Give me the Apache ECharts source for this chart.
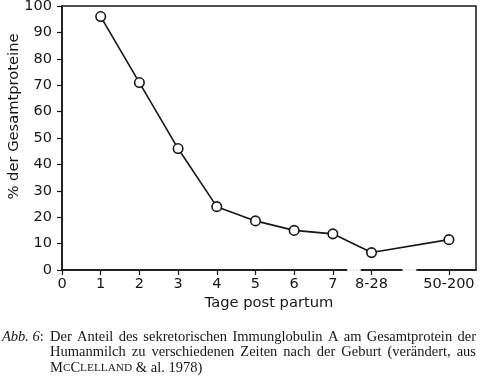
<!DOCTYPE html>
<html><head><meta charset="utf-8">
<script src="https://cdn.jsdelivr.net/npm/echarts@6/dist/echarts.min.js"></script>
<style>html,body{margin:0;padding:0;background:#fff}#c{width:480px;height:378px}</style>
</head><body><div id="c"></div>
<script>
// ---- data ----
const tickPositions = [0, 1, 2, 3, 4, 5, 6, 7, 8, 10];
const tickLabels = ['0', '1', '2', '3', '4', '5', '6', '7', '8-28', '50-200'];
const dayPositions = [1, 2, 3, 4, 5, 6, 7, 8, 10];
const sigaPercent = [96, 71, 46, 24, 18.6, 15, 13.7, 6.6, 11.5];
const axisBreaks = [[7.37, 7.72], [8.8, 9.16]];
const yAxisTitle = '% der Gesamtproteine';
const xAxisTitle = 'Tage post partum';
const captionLead = 'Abb. 6';
const captionLine1 = 'Der Anteil des sekretorischen Immunglobulin A am Gesamtprotein der';
const captionLine2 = 'Humanmilch zu verschiedenen Zeiten nach der Geburt (verändert, aus';
const captionLine3 = ' & al. 1978)';

const chart = echarts.init(document.getElementById('c'), null, {renderer: 'canvas'});
const ink = '#161616';
const sans = 'DejaVu Sans';
const serif = 'Liberation Serif';
const capFont = 14.5;

const labelMap = {};
tickPositions.forEach((p, i) => labelMap[p] = tickLabels[i]);

// justify words across a line
const cv = document.createElement('canvas').getContext('2d');
function justifiedWords(text, x0, x1, y) {
  cv.font = capFont + 'px "' + serif + '"';
  const words = text.split(' ');
  const widths = words.map(w => cv.measureText(w).width);
  const total = widths.reduce((a, b) => a + b, 0);
  const gap = (x1 - x0 - total) / (words.length - 1);
  let x = x0;
  return words.map((w, i) => {
    const el = {type: 'text', x: x, y: y, silent: true,
      style: {text: w, fontFamily: serif, fontSize: capFont, fill: ink, verticalAlign: 'middle'}};
    x += widths[i] + gap;
    return el;
  });
}

const capLeft = 50, capRight = 476;
const graphics = [
  {type: 'text', x: 2, y: 337, silent: true,
   style: {text: '{i|' + captionLead + '}:', fontFamily: serif, fontSize: capFont, fill: ink, verticalAlign: 'middle',
     rich: {i: {fontFamily: serif, fontStyle: 'italic', fontSize: capFont, fill: ink}}}},
  ...justifiedWords(captionLine1, capLeft, capRight, 337),
  ...justifiedWords(captionLine2, capLeft, capRight, 352.5),
  {type: 'text', x: capLeft, y: 368, silent: true,
   style: {text: '{b|M}{s|C}{b|C}{s|LELLAND}' + captionLine3, fontFamily: serif, fontSize: capFont, fill: ink, verticalAlign: 'middle',
     rich: {b: {fontFamily: serif, fontSize: capFont, fill: ink}, s: {fontFamily: serif, fontSize: 11.3, fill: ink}}}}
];

const breakSeries = [];
axisBreaks.forEach(b => {
  breakSeries.push({type: 'line', data: [[b[0], 0], [b[1], 0]], symbol: 'none', clip: false, silent: true, z: 5,
    lineStyle: {color: '#fff', width: 3}});
  breakSeries.push({type: 'line', data: [[b[0], 0], [b[1], 0]], symbol: 'none', clip: false, silent: true, z: 6,
    lineStyle: {color: '#aaa', width: 1, type: [1, 2]}});
});

chart.setOption({
  animation: false,
  backgroundColor: '#fff',
  grid: {left: 62, right: 4, top: 6, bottom: 108, outerBoundsMode: 'none', containLabel: false,
    show: true, borderColor: ink, borderWidth: 1.5, backgroundColor: 'transparent'},
  xAxis: {
    type: 'value', min: 0, max: 10.7, interval: 1,
    name: xAxisTitle, nameLocation: 'middle', nameGap: 26, nameMoveOverlap: false,
    nameTextStyle: {fontFamily: sans, fontSize: 14.7, color: ink},
    axisLine: {show: true, lineStyle: {color: ink, width: 1.5}},
    axisTick: {show: true, length: 5, inside: false, customValues: tickPositions, lineStyle: {color: ink, width: 1.2}},
    axisLabel: {customValues: tickPositions, formatter: v => labelMap[v] !== undefined ? labelMap[v] : '',
      fontFamily: sans, fontSize: 14.5, color: ink, margin: 7},
    splitLine: {show: false}
  },
  yAxis: {
    type: 'value', min: 0, max: 100, interval: 10,
    name: yAxisTitle, nameLocation: 'middle', nameGap: 40, nameMoveOverlap: false,
    nameTextStyle: {fontFamily: sans, fontSize: 14.7, color: ink, padding: [0, 0, 0, 43]},
    axisLine: {show: true, lineStyle: {color: ink, width: 1.5}},
    axisTick: {show: true, length: 5, lineStyle: {color: ink, width: 1.2}},
    axisLabel: {fontFamily: sans, fontSize: 14.5, color: ink, margin: 10},
    splitLine: {show: false}
  },
  series: [
    ...breakSeries,
    {
      type: 'line', z: 10,
      data: dayPositions.map((d, i) => [d, sigaPercent[i]]),
      symbol: 'circle', symbolSize: 9.5, showAllSymbol: true,
      lineStyle: {color: ink, width: 1.6},
      itemStyle: {color: '#fff', borderColor: ink, borderWidth: 1.6}
    }
  ],
  graphic: graphics
});
</script></body></html>
